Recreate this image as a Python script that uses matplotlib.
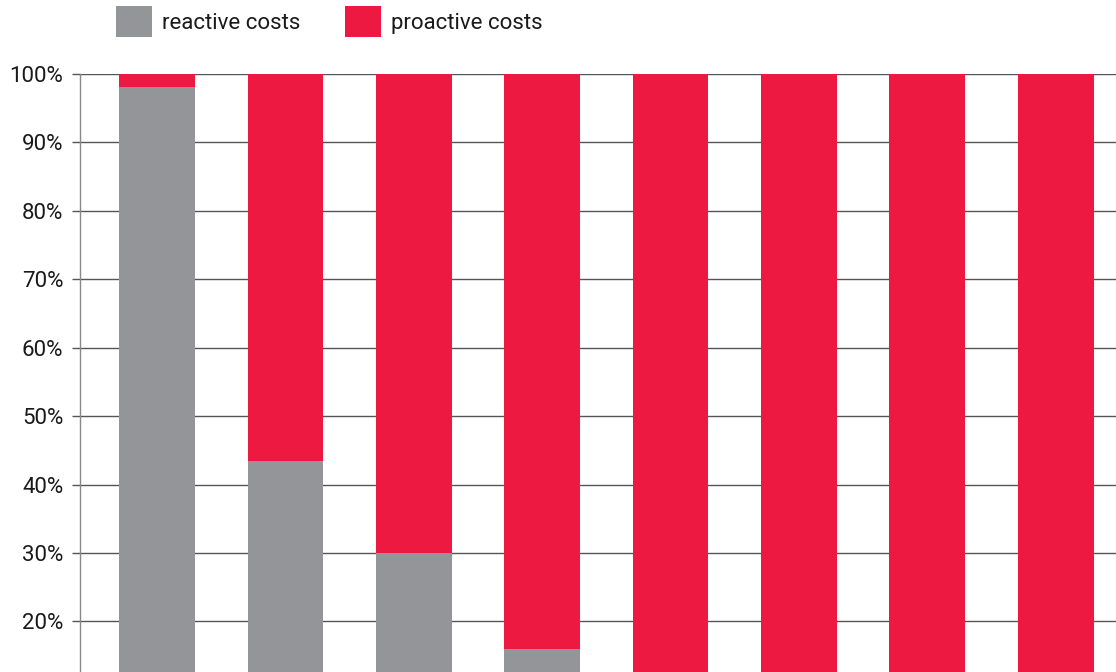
import numpy as np
import matplotlib.pyplot as plt

# share of costs per bar, in percent
reactive = [98.1, 43.4, 30.0, 15.9, 10.0, 7.0, 5.0, 3.0]
proactive = [100 - r for r in reactive]
yticks = [20, 30, 40, 50, 60, 70, 80, 90, 100]

grey = "#939598"
red = "#ED1941"
txt = "#1a1a1a"

plt.rcParams['font.family'] = ['Roboto', 'DejaVu Sans']

fig = plt.figure(figsize=(11.16, 6.72), dpi=100)
ax = fig.add_axes([80 / 1116, 0, 1 - 80 / 1116, 1 - 74 / 672])

x = np.arange(len(reactive))
w = 0.59
b1 = ax.bar(x, reactive, w, color=grey, label="reactive costs", zorder=2)
b2 = ax.bar(x, proactive, w, bottom=reactive, color=red, label="proactive costs", zorder=2)

ax.set_yticks(yticks)
ax.set_yticklabels([f"{v}%" for v in yticks])
ax.set_xticks([])
ax.set_xlim(-0.6, 7.47)
ax.set_ylim(12.6, 100)
ax.yaxis.grid(True, color="#555555", lw=1.0, zorder=1)
ax.set_axisbelow(True)
ax.tick_params(axis="y", length=6, width=1.0, color="#555555", pad=6,
               labelsize=16, labelcolor=txt)
for s in ["top", "right", "bottom"]:
    ax.spines[s].set_visible(False)
ax.spines["left"].set_color("#888888")
ax.spines["left"].set_linewidth(1.0)
ax.spines["left"].set_zorder(3)

fig.legend(handles=[b1, b2], loc="upper left", bbox_to_anchor=(112 / 1116, 1 - 2 / 672),
           ncol=2, frameon=False, fontsize=16, labelcolor=txt,
           handlelength=1.62, handleheight=1.75, handletextpad=0.45,
           columnspacing=2.0, borderaxespad=0.0, borderpad=0.2)

fig.savefig("out.png", dpi=100)
